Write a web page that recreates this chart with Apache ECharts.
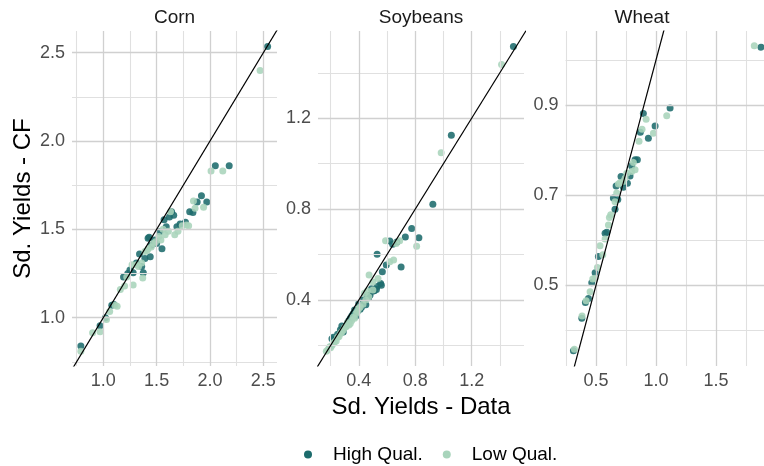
<!DOCTYPE html>
<html><head><meta charset="utf-8">
<script src="https://cdn.jsdelivr.net/npm/echarts@6/dist/echarts.min.js"></script>
<style>html,body{margin:0;padding:0;background:#fff}#c{width:764px;height:466px}</style>
</head><body><div id="c"></div>
<script>
// ---- Data ----
const panelNames = ['Corn', 'Soybeans', 'Wheat'];
const seriesNames = ['High Qual.', 'Low Qual.'];

const cornHigh = [[0.79,0.84],[0.97,0.955],[1.02,1.0],[1.08,1.07],[1.10,1.075],[1.19,1.23],[1.23,1.25],[1.25,1.27],[1.28,1.255],[1.31,1.31],[1.34,1.36],[1.36,1.29],[1.375,1.255],[1.39,1.335],[1.42,1.45],[1.43,1.455],[1.44,1.345],[1.45,1.41],[1.48,1.44],[1.50,1.42],[1.53,1.487],[1.55,1.39],[1.57,1.555],[1.59,1.515],[1.62,1.57],[1.64,1.60],[1.66,1.58],[1.69,1.515],[1.72,1.53],[1.77,1.54],[1.81,1.60],[1.84,1.595],[1.88,1.655],[1.92,1.69],[1.97,1.655],[2.05,1.86],[2.18,1.86],[2.54,2.535]];
const cornLow = [[0.79,0.81],[0.90,0.915],[0.97,0.92],[1.03,0.99],[1.06,1.035],[1.11,1.07],[1.13,1.065],[1.16,1.16],[1.20,1.18],[1.22,1.23],[1.27,1.30],[1.28,1.185],[1.31,1.30],[1.33,1.29],[1.36,1.31],[1.37,1.225],[1.39,1.375],[1.41,1.38],[1.42,1.39],[1.45,1.40],[1.47,1.42],[1.49,1.43],[1.52,1.46],[1.54,1.44],[1.56,1.50],[1.58,1.47],[1.61,1.49],[1.63,1.60],[1.67,1.47],[1.70,1.49],[1.74,1.52],[1.78,1.525],[1.80,1.52],[1.845,1.66],[1.86,1.62],[1.94,1.625],[2.01,1.83],[2.12,1.83],[2.47,2.40]];

const soyHigh = [[0.21,0.23],[0.22,0.236],[0.25,0.25],[0.27,0.27],[0.28,0.286],[0.29,0.26],[0.31,0.287],[0.32,0.30],[0.33,0.31],[0.34,0.32],[0.35,0.33],[0.36,0.34],[0.37,0.356],[0.38,0.33],[0.39,0.35],[0.40,0.385],[0.41,0.36],[0.42,0.37],[0.43,0.40],[0.44,0.393],[0.45,0.38],[0.46,0.42],[0.47,0.41],[0.48,0.422],[0.49,0.45],[0.50,0.44],[0.51,0.441],[0.525,0.447],[0.53,0.46],[0.555,0.473],[0.56,0.465],[0.53,0.602],[0.567,0.525],[0.595,0.554],[0.62,0.66],[0.64,0.646],[0.67,0.656],[0.70,0.546],[0.73,0.678],[0.775,0.715],[0.826,0.674],[0.925,0.822],[1.056,1.125],[1.496,1.516]];
const soyLow = [[0.17,0.175],[0.18,0.18],[0.19,0.19],[0.195,0.195],[0.20,0.19],[0.21,0.2],[0.22,0.21],[0.23,0.217],[0.24,0.22],[0.25,0.236],[0.26,0.24],[0.27,0.253],[0.28,0.26],[0.29,0.268],[0.30,0.28],[0.31,0.283],[0.32,0.3],[0.33,0.29],[0.34,0.297],[0.35,0.31],[0.36,0.324],[0.37,0.32],[0.38,0.341],[0.39,0.35],[0.40,0.363],[0.41,0.37],[0.43,0.382],[0.44,0.43],[0.45,0.40],[0.46,0.44],[0.47,0.415],[0.473,0.51],[0.50,0.48],[0.536,0.495],[0.50,0.444],[0.59,0.661],[0.62,0.569],[0.647,0.576],[0.665,0.649],[0.69,0.661],[0.81,0.637],[0.984,1.048],[1.412,1.437]];

const wheatHigh = [[0.311,0.354],[0.381,0.426],[0.411,0.461],[0.436,0.47],[0.464,0.505],[0.492,0.527],[0.519,0.563],[0.575,0.615],[0.589,0.617],[0.658,0.668],[0.644,0.693],[0.681,0.69],[0.667,0.72],[0.728,0.717],[0.761,0.726],[0.708,0.741],[0.783,0.742],[0.797,0.764],[0.825,0.778],[0.844,0.778],[0.936,0.826],[0.869,0.839],[0.992,0.853],[0.894,0.881],[1.117,0.893],[1.875,1.028]];
const wheatLow = [[0.319,0.357],[0.383,0.431],[0.417,0.465],[0.45,0.485],[0.472,0.513],[0.492,0.515],[0.511,0.539],[0.556,0.567],[0.533,0.587],[0.575,0.602],[0.603,0.633],[0.611,0.65],[0.622,0.656],[0.658,0.685],[0.672,0.704],[0.686,0.724],[0.70,0.727],[0.728,0.73],[0.742,0.737],[0.756,0.748],[0.797,0.752],[0.825,0.756],[0.811,0.772],[0.858,0.819],[0.978,0.837],[0.883,0.846],[0.917,0.868],[1.089,0.876],[1.819,1.031]];

// axis limits [min, max]
const xRanges = [[0.707, 2.628], [0.111, 1.571], [0.245, 1.90]];
const yRanges = [[0.7265, 2.623], [0.110, 1.584], [0.32, 1.064]];
// tick labels (major) and minor grid values
const xMajor = [[1.0, 1.5, 2.0, 2.5], [0.4, 0.8, 1.2], [0.5, 1.0, 1.5]];
const xMinor = [[0.75, 1.25, 1.75, 2.25], [0.2, 0.6, 1.0, 1.4], [0.25, 0.75, 1.25, 1.75]];
const yMajor = [[1.0, 1.5, 2.0, 2.5], [0.4, 0.8, 1.2], [0.5, 0.7, 0.9]];
const yMinor = [[0.75, 1.25, 1.75, 2.25], [0.2, 0.6, 1.0, 1.4], [0.4, 0.6, 0.8, 1.0]];

const pointData = [[cornHigh, cornLow], [soyHigh, soyLow], [wheatHigh, wheatLow]];

// ---- Styling ----
const FONT = '"Liberation Sans", Arial, Helvetica, sans-serif';
const colors = ['#1c6b6c', '#a8d4bb'];
const majorGrid = {color: '#d0d0d0', width: 1.3, type: 'solid'};
const minorGrid = {color: '#e0e0e0', width: 1.1, type: 'solid'};
const grids = [
  {left: 72, top: 31, width: 205, height: 335},
  {left: 318, top: 31, width: 206, height: 335},
  {left: 565.5, top: 31, width: 198.5, height: 335}
];
const stripCenters = [174.5, 421, 642];

const xAxes = [], yAxes = [], series = [], titles = [];
for (let i = 0; i < 3; i++) {
  xAxes.push({
    type: 'value', gridIndex: i, min: xRanges[i][0], max: xRanges[i][1],
    axisLine: {show: false}, axisTick: {show: false}, splitLine: {show: false},
    axisLabel: {customValues: xMajor[i], formatter: v => v.toFixed(1), color: '#4d4d4d', fontSize: 18, fontFamily: FONT, margin: 6},
    name: i === 1 ? 'Sd. Yields - Data' : '', nameLocation: 'middle', nameGap: 25,
    nameTextStyle: {fontSize: 24, color: '#000', fontFamily: FONT}
  });
  yAxes.push({
    type: 'value', gridIndex: i, min: yRanges[i][0], max: yRanges[i][1],
    axisLine: {show: false}, axisTick: {show: false}, splitLine: {show: false},
    axisLabel: {customValues: yMajor[i], formatter: v => v.toFixed(1), color: '#4d4d4d', fontSize: 18, fontFamily: FONT, margin: 7},
    name: i === 0 ? 'Sd. Yields - CF' : '', nameLocation: 'middle', nameGap: 37, nameRotate: 90,
    nameTextStyle: {fontSize: 24, color: '#000', fontFamily: FONT}
  });
  // gridlines from tick arrays
  const ml = [];
  xMinor[i].forEach(v => ml.push({xAxis: v, lineStyle: minorGrid}));
  yMinor[i].forEach(v => ml.push({yAxis: v, lineStyle: minorGrid}));
  xMajor[i].forEach(v => ml.push({xAxis: v, lineStyle: majorGrid}));
  yMajor[i].forEach(v => ml.push({yAxis: v, lineStyle: majorGrid}));
  series.push({
    type: 'line', name: 'grid' + i, xAxisIndex: i, yAxisIndex: i, data: [], z: 1, silent: true,
    markLine: {symbol: ['none', 'none'], silent: true, animation: false, label: {show: false}, data: ml}
  });
  for (let s = 0; s < 2; s++) {
    series.push({
      type: 'scatter', name: seriesNames[s], xAxisIndex: i, yAxisIndex: i,
      data: pointData[i][s], symbolSize: 7, z: 2 + s,
      itemStyle: {color: colors[s], opacity: 0.88}
    });
  }
  // y = x reference line
  const lo = Math.min(xRanges[i][0], yRanges[i][0]) - 1, hi = Math.max(xRanges[i][1], yRanges[i][1]) + 1;
  series.push({
    type: 'line', name: 'ref' + i, xAxisIndex: i, yAxisIndex: i, data: [[lo, lo], [hi, hi]],
    symbol: 'none', clip: true, z: 5, silent: true,
    lineStyle: {color: '#000', width: 1.2}
  });
  titles.push({
    text: panelNames[i], left: stripCenters[i], top: 8, textAlign: 'center', padding: 0,
    textStyle: {fontSize: 19, fontWeight: 'normal', color: '#1a1a1a', fontFamily: FONT}
  });
}

const chart = echarts.init(document.getElementById('c'), null, {renderer: 'canvas'});
chart.setOption({
  animation: false,
  backgroundColor: '#fff',
  title: titles,
  grid: grids,
  xAxis: xAxes,
  yAxis: yAxes,
  legend: {
    data: seriesNames, left: 299, top: 440, icon: 'circle', itemWidth: 8, itemHeight: 8, itemGap: 20,
    textStyle: {fontSize: 19, color: '#000', fontFamily: FONT, padding: [0, 0, 0, 16]},
    itemStyle: {opacity: 1}
  },
  series: series
});
</script></body></html>
